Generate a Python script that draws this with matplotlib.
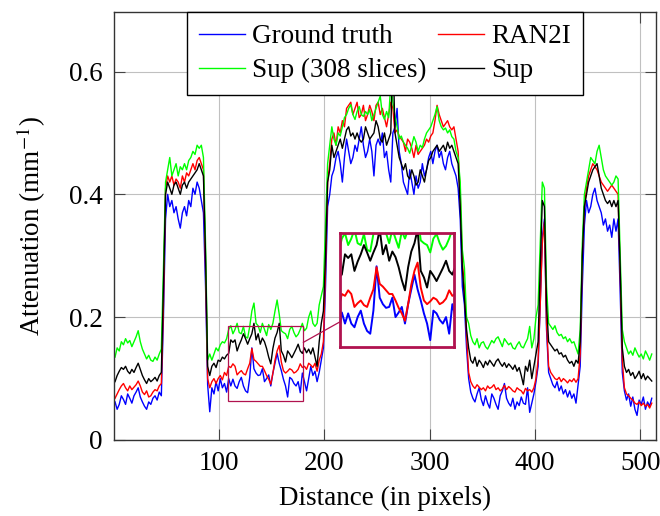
import matplotlib
matplotlib.use("Agg")
import matplotlib.pyplot as plt
from matplotlib.patches import Rectangle
import numpy as np

plt.rcParams['font.family'] = ['Liberation Serif', 'DejaVu Serif']
plt.rcParams['mathtext.fontset'] = 'stix'

# pixel positions along the profile (every second pixel)
distance = list(range(1, 513, 2))

ground_truth = [
    0.062, 0.050, 0.058, 0.072, 0.066, 0.058, 0.075, 0.068, 0.060, 0.072,
    0.078, 0.085, 0.070, 0.062, 0.055, 0.050, 0.062, 0.058, 0.068, 0.072,
    0.065, 0.078, 0.072,
    0.20,
    0.36, 0.40, 0.38, 0.39, 0.37, 0.38, 0.36, 0.345, 0.37, 0.38,
    0.365, 0.39, 0.38, 0.41, 0.40, 0.42, 0.41, 0.39, 0.37,
    0.25,
    0.090, 0.046, 0.085, 0.075, 0.095, 0.080, 0.100, 0.085, 0.092, 0.078,
    0.100, 0.088, 0.099, 0.088, 0.084, 0.095, 0.102, 0.088, 0.080, 0.077,
    0.102, 0.150, 0.116, 0.109, 0.105, 0.106, 0.116, 0.095, 0.100, 0.106,
    0.088, 0.109, 0.125, 0.141, 0.125, 0.113, 0.099, 0.088, 0.070, 0.102,
    0.099, 0.092, 0.088, 0.095, 0.077, 0.109, 0.095, 0.080, 0.100, 0.120,
    0.105, 0.112, 0.095, 0.110, 0.130, 0.150,
    0.25, 0.38,
    0.40, 0.43, 0.44, 0.46, 0.47, 0.45, 0.42, 0.46, 0.49, 0.47,
    0.45, 0.46, 0.48, 0.47, 0.49, 0.51, 0.48, 0.46, 0.47, 0.49,
    0.47, 0.43, 0.48, 0.49, 0.48, 0.50, 0.46, 0.47, 0.44, 0.42,
    0.50, 0.51, 0.54, 0.47, 0.45, 0.42, 0.41, 0.40, 0.44, 0.42,
    0.40, 0.43, 0.41, 0.42, 0.45, 0.43, 0.44, 0.46, 0.47, 0.45,
    0.47, 0.48, 0.46, 0.47, 0.45, 0.44, 0.46, 0.47, 0.45, 0.44,
    0.43, 0.41,
    0.36, 0.25, 0.22, 0.15,
    0.100, 0.078, 0.068, 0.062, 0.075, 0.085, 0.066, 0.056, 0.072, 0.060,
    0.052, 0.075, 0.068, 0.058, 0.050, 0.072, 0.080, 0.092, 0.068, 0.060,
    0.055, 0.068, 0.050, 0.062, 0.056, 0.070, 0.060, 0.058, 0.085, 0.045,
    0.060, 0.075, 0.095,
    0.12, 0.22, 0.33, 0.36, 0.18,
    0.11, 0.10, 0.09, 0.085, 0.095, 0.080, 0.088, 0.075, 0.082, 0.070,
    0.080, 0.068, 0.075, 0.060, 0.090, 0.12,
    0.25, 0.35,
    0.39, 0.37, 0.38, 0.40, 0.41, 0.39, 0.38, 0.37, 0.35, 0.36,
    0.34, 0.35, 0.33, 0.36, 0.34, 0.36,
    0.24, 0.11,
    0.080, 0.065, 0.075, 0.055, 0.070, 0.050, 0.040, 0.065, 0.058, 0.070,
    0.050, 0.062, 0.055, 0.068,
]

ran2i = [
    0.068, 0.075, 0.082, 0.088, 0.092, 0.085, 0.080, 0.088, 0.082, 0.086,
    0.090, 0.096, 0.088, 0.078, 0.074, 0.080, 0.070, 0.072, 0.078, 0.082,
    0.080, 0.088, 0.092,
    0.22,
    0.41, 0.43, 0.42, 0.43, 0.415, 0.425, 0.42, 0.41, 0.43, 0.42,
    0.435, 0.43, 0.44, 0.45, 0.44, 0.455, 0.46, 0.45, 0.44,
    0.28,
    0.100, 0.085, 0.095, 0.100, 0.092, 0.100, 0.105, 0.098, 0.110, 0.105,
    0.120, 0.118, 0.124, 0.120, 0.106, 0.110, 0.113, 0.108, 0.106, 0.116,
    0.125, 0.149, 0.131, 0.128, 0.124, 0.120, 0.120, 0.113, 0.105, 0.099,
    0.091, 0.109, 0.130, 0.145, 0.154, 0.127, 0.113, 0.109, 0.112, 0.116,
    0.114, 0.109, 0.111, 0.115, 0.124, 0.118, 0.120, 0.115, 0.125, 0.122,
    0.118, 0.125, 0.112, 0.130, 0.140, 0.160,
    0.28, 0.42,
    0.45, 0.49, 0.50, 0.48, 0.51, 0.50, 0.52, 0.51, 0.54, 0.545,
    0.55, 0.53, 0.54, 0.55, 0.525, 0.53, 0.545, 0.52, 0.53, 0.545,
    0.535, 0.52, 0.545, 0.55, 0.53, 0.54, 0.525, 0.51, 0.53, 0.55,
    0.54, 0.50, 0.505, 0.495, 0.49, 0.485, 0.47, 0.49, 0.485, 0.475,
    0.46, 0.48, 0.465, 0.47, 0.475, 0.48, 0.49, 0.485, 0.495, 0.50,
    0.52, 0.545, 0.53, 0.52, 0.51, 0.515, 0.52, 0.51, 0.505, 0.51,
    0.49, 0.47,
    0.40, 0.29, 0.25, 0.17,
    0.110, 0.095, 0.088, 0.084, 0.090, 0.086, 0.082, 0.085, 0.080, 0.088,
    0.084, 0.086, 0.090, 0.082, 0.085, 0.080, 0.083, 0.089, 0.082, 0.087,
    0.084, 0.080, 0.078, 0.085, 0.082, 0.080, 0.075, 0.084, 0.080, 0.082,
    0.078, 0.085, 0.100,
    0.13, 0.22, 0.32, 0.355, 0.19,
    0.12, 0.11, 0.105, 0.10, 0.098, 0.102, 0.095, 0.10, 0.097, 0.093,
    0.098, 0.095, 0.10, 0.094, 0.10, 0.14,
    0.30, 0.38,
    0.41, 0.43, 0.44, 0.45, 0.445, 0.44, 0.43, 0.42, 0.415, 0.41,
    0.405, 0.41, 0.415, 0.41, 0.405, 0.40,
    0.27, 0.13,
    0.085, 0.075, 0.072, 0.068, 0.065, 0.060, 0.058, 0.062, 0.056, 0.060,
    0.055, 0.058, 0.052, 0.060,
]

sup_308 = [
    0.135, 0.150, 0.145, 0.160, 0.155, 0.165, 0.158, 0.162, 0.152, 0.160,
    0.168, 0.178, 0.160, 0.148, 0.140, 0.132, 0.138, 0.130, 0.128, 0.135,
    0.130, 0.140, 0.148,
    0.28,
    0.42, 0.44, 0.46, 0.43, 0.44, 0.45, 0.43, 0.445, 0.44, 0.45,
    0.44, 0.455, 0.46, 0.47, 0.465, 0.48, 0.475, 0.48, 0.46,
    0.32,
    0.130, 0.140, 0.130, 0.140, 0.150, 0.145, 0.155, 0.160, 0.158, 0.165,
    0.180, 0.186, 0.173, 0.180, 0.190, 0.175, 0.173, 0.185, 0.168, 0.166,
    0.185, 0.210, 0.223, 0.190, 0.186, 0.175, 0.190, 0.180, 0.170, 0.188,
    0.180, 0.190, 0.210, 0.228, 0.205, 0.178, 0.175, 0.173, 0.165, 0.180,
    0.185, 0.175, 0.168, 0.172, 0.180, 0.190, 0.178, 0.182, 0.200, 0.210,
    0.190, 0.185, 0.190, 0.220, 0.235, 0.250,
    0.35, 0.45,
    0.48, 0.51, 0.49, 0.48, 0.50, 0.495, 0.51, 0.525, 0.53, 0.54,
    0.546, 0.53, 0.522, 0.535, 0.543, 0.53, 0.527, 0.535, 0.53, 0.538,
    0.52, 0.53, 0.54, 0.55, 0.56, 0.53, 0.522, 0.535, 0.525, 0.58,
    0.55, 0.527, 0.51, 0.49, 0.495, 0.485, 0.48, 0.475, 0.467, 0.48,
    0.494, 0.485, 0.47, 0.48, 0.476, 0.49, 0.50, 0.505, 0.51, 0.52,
    0.53, 0.543, 0.52, 0.51, 0.505, 0.508, 0.50, 0.505, 0.494, 0.49,
    0.47, 0.46,
    0.42, 0.31, 0.28, 0.20,
    0.190, 0.170, 0.160, 0.155, 0.165, 0.150, 0.158, 0.160, 0.152, 0.148,
    0.155, 0.162, 0.158, 0.165, 0.168, 0.160, 0.152, 0.165, 0.160, 0.155,
    0.158, 0.150, 0.148, 0.155, 0.160, 0.152, 0.150, 0.158, 0.165, 0.185,
    0.150, 0.165, 0.200,
    0.22, 0.32, 0.42, 0.41, 0.25,
    0.19, 0.185, 0.18, 0.186, 0.175, 0.17, 0.172, 0.165, 0.168, 0.16,
    0.165, 0.158, 0.16, 0.15, 0.14, 0.18,
    0.32, 0.40,
    0.42, 0.44, 0.46, 0.455, 0.45, 0.47, 0.48, 0.46, 0.44, 0.43,
    0.425, 0.42, 0.415, 0.42, 0.43, 0.425,
    0.30, 0.18,
    0.16, 0.15, 0.14, 0.145, 0.138, 0.15, 0.142, 0.135, 0.14, 0.132,
    0.145, 0.138, 0.13, 0.14,
]

sup = [
    0.095, 0.105, 0.112, 0.118, 0.115, 0.120, 0.112, 0.108, 0.115, 0.110,
    0.118, 0.125, 0.115, 0.105, 0.098, 0.092, 0.100, 0.095, 0.098, 0.102,
    0.096, 0.105, 0.110,
    0.25,
    0.40, 0.42, 0.41, 0.40, 0.415, 0.42, 0.41, 0.40, 0.415, 0.42,
    0.41, 0.42, 0.425, 0.43, 0.435, 0.44, 0.45, 0.44, 0.43,
    0.30,
    0.120, 0.105, 0.120, 0.125, 0.118, 0.130, 0.128, 0.135, 0.132, 0.138,
    0.141, 0.163, 0.159, 0.163, 0.145, 0.155, 0.163, 0.173, 0.165, 0.156,
    0.165, 0.173, 0.190, 0.163, 0.173, 0.156, 0.166, 0.160, 0.149, 0.135,
    0.124, 0.149, 0.166, 0.175, 0.190, 0.145, 0.138, 0.127, 0.145, 0.140,
    0.134, 0.141, 0.148, 0.156, 0.145, 0.141, 0.150, 0.142, 0.148, 0.140,
    0.150, 0.135, 0.120, 0.160, 0.190, 0.210,
    0.30, 0.42,
    0.44, 0.48, 0.46, 0.47, 0.48, 0.49, 0.475, 0.49, 0.505, 0.51,
    0.495, 0.50, 0.49, 0.50, 0.49, 0.485, 0.49, 0.51, 0.50, 0.49,
    0.495, 0.50, 0.52, 0.51, 0.49, 0.485, 0.50, 0.48, 0.49, 0.50,
    0.64, 0.50, 0.48, 0.46, 0.45, 0.44, 0.45, 0.43, 0.425, 0.44,
    0.43, 0.415, 0.42, 0.44, 0.43, 0.42, 0.44, 0.455, 0.46, 0.47,
    0.475, 0.48, 0.47, 0.475, 0.48, 0.47, 0.485, 0.475, 0.48, 0.47,
    0.46, 0.45,
    0.38, 0.28, 0.23, 0.18,
    0.150, 0.130, 0.125, 0.135, 0.120, 0.130, 0.125, 0.118, 0.128, 0.122,
    0.130, 0.125, 0.120, 0.128, 0.132, 0.125, 0.120, 0.126, 0.118, 0.124,
    0.120, 0.115, 0.122, 0.112, 0.118, 0.105, 0.090, 0.120, 0.112, 0.130,
    0.100, 0.120, 0.140,
    0.16, 0.28, 0.39, 0.38, 0.22,
    0.16, 0.155, 0.15, 0.145, 0.148, 0.14, 0.142, 0.135, 0.138, 0.13,
    0.125, 0.128, 0.12, 0.13, 0.125, 0.16,
    0.30, 0.38,
    0.40, 0.42, 0.43, 0.44, 0.445, 0.45, 0.43, 0.41, 0.40, 0.39,
    0.385, 0.39, 0.38, 0.39, 0.38, 0.39,
    0.28, 0.15,
    0.12, 0.11, 0.115, 0.105, 0.11, 0.10, 0.105, 0.112, 0.10, 0.108,
    0.098, 0.104, 0.10, 0.096,
]

x_ticks = [100, 200, 300, 400, 500]
y_ticks = [0, 0.2, 0.4, 0.6]
y_tick_labels = ["0", "0.2", "0.4", "0.6"]

series = [
    ("Ground truth", ground_truth, "#0000FF"),
    ("RAN2I", ran2i, "#FF0000"),
    ("Sup (308 slices)", sup_308, "#00FF00"),
    ("Sup", sup, "#000000"),
]

zoom_x = (108, 180)
zoom_y = (0.063, 0.186)
inset_box = (215, 0.152, 108, 0.185)  # x0, y0, width, height in data units
spy_color = "#B0124F"

for _, vals, _ in series:
    assert len(vals) == len(distance), len(vals)

FS = 19.5
fig = plt.figure(figsize=(6.6, 5.16), dpi=100)
ax = fig.add_axes([0.1727, 0.1473, 0.8212, 0.8295])

handles = {}
for name, vals, col in series:
    h, = ax.plot(distance, vals, color=col, lw=1.0, label=name)
    handles[name] = h

ax.set_xlim(0, 515)
ax.set_ylim(0, 0.697)
ax.set_xticks(x_ticks)
ax.set_yticks(y_ticks)
ax.set_yticklabels(y_tick_labels)
ax.grid(True, color="#C0C0C0", lw=0.8)
ax.set_axisbelow(True)
ax.tick_params(direction="in", length=8, width=0.8, color="#444444",
               top=True, right=True, labelsize=FS, pad=8)
for s in ax.spines.values():
    s.set_color("#333333")
    s.set_linewidth(1.0)
ax.set_xlabel("Distance (in pixels)", fontsize=FS, labelpad=7)
ax.set_ylabel("Attenuation (mm$^{-1}$)", fontsize=FS, labelpad=15)

# legend, 2 columns, row-wise order
order = ["Ground truth", "Sup (308 slices)", "RAN2I", "Sup"]
leg = ax.legend([handles[k] for k in order], order, loc="upper center",
                ncol=2, fontsize=FS, frameon=True, fancybox=False,
                edgecolor="black", framealpha=1, borderaxespad=0,
                handlelength=1.7, handletextpad=0.25, columnspacing=0.45,
                labelspacing=0.33, borderpad=0.45)
leg.get_frame().set_linewidth(1.0)
leg.set_zorder(10)

# small zoom rectangle
ax.add_patch(Rectangle((zoom_x[0], zoom_y[0]), zoom_x[1] - zoom_x[0],
                       zoom_y[1] - zoom_y[0], fill=False,
                       edgecolor=spy_color, lw=0.9, zorder=5))

# inset
ins = ax.inset_axes(list(inset_box), transform=ax.transData)
for name, vals, col in series:
    ins.plot(distance, vals, color=col, lw=1.4)
ins.set_xlim(*zoom_x)
ins.set_ylim(*zoom_y)
ins.set_xticks([])
ins.set_yticks([])
ins.patch.set_alpha(0)
for s in ins.spines.values():
    s.set_color(spy_color)
    s.set_linewidth(2.0)

# connector line between box centres, clipped at box edges
fig.canvas.draw()
T = ax.transData
c1 = T.transform(((zoom_x[0] + zoom_x[1]) / 2, (zoom_y[0] + zoom_y[1]) / 2))
c2 = T.transform((inset_box[0] + inset_box[2] / 2, inset_box[1] + inset_box[3] / 2))
xr = T.transform((zoom_x[1], zoom_y[0]))[0]
xl = T.transform((inset_box[0], inset_box[1]))[0]
slope = (c2[1] - c1[1]) / (c2[0] - c1[0])
p1 = (xr, c1[1] + slope * (xr - c1[0]))
p2 = (xl, c1[1] + slope * (xl - c1[0]))
d1, d2 = T.inverted().transform([p1, p2])
ax.plot([d1[0], d2[0]], [d1[1], d2[1]], color=spy_color, lw=0.9, zorder=5)

fig.savefig("out.png", dpi=100)
